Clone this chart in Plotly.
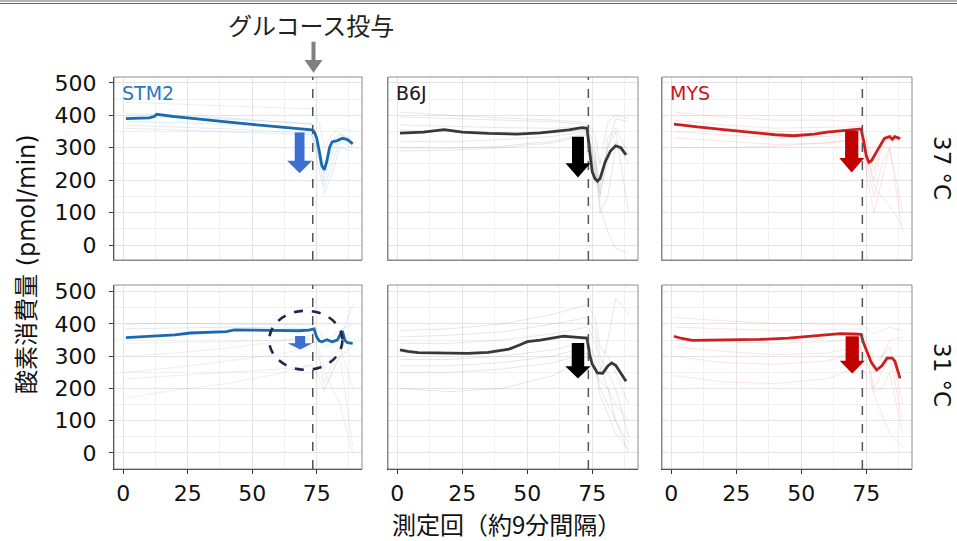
import plotly.graph_objects as go

# ---------------- data ----------------
PANELS = ["STM2", "B6J", "MYS"]
TEMPS = ["37 °C", "31 °C"]

STM2_37_X = [1, 5, 10, 12, 13, 20, 30, 40, 50, 60, 70, 73, 74, 75, 76, 77, 78, 79, 80, 81, 83, 85, 87, 89]
STM2_37_Y = [390, 391, 392, 396, 403, 396, 387, 380, 372, 365, 358, 355, 350, 330, 290, 245, 232, 260, 300, 318, 322, 329, 325, 312]

B6J_37_X = [1, 10, 18, 25, 35, 46, 55, 60, 66, 71, 73, 74, 75, 76, 77, 78, 80, 82, 84, 86, 88]
B6J_37_Y = [345, 348, 356, 348, 344, 342, 346, 350, 355, 362, 360, 288, 226, 205, 197, 205, 257, 290, 306, 300, 278]

MYS_37_X = [1, 5, 10, 21, 30, 40, 47, 55, 60, 66, 72, 73, 74, 75, 76, 77, 79, 81, 82, 84, 85, 86, 87, 88]
MYS_37_Y = [373, 368, 364, 355, 348, 340, 337, 342, 348, 353, 358, 358, 320, 275, 255, 260, 288, 318, 329, 334, 326, 334, 330, 328]

STM2_31_X = [1, 10, 20, 26, 35, 40, 43, 50, 60, 68, 72, 73, 74, 75, 76, 77, 79, 81, 83, 84, 85, 86, 87, 89]
STM2_31_Y = [358, 362, 366, 372, 374, 376, 382, 381, 380, 379, 381, 382, 385, 360, 348, 345, 351, 345, 350, 365, 378, 349, 342, 340]

B6J_31_X = [1, 4, 8, 15, 27, 35, 43, 47, 50, 55, 60, 64, 67, 70, 73, 74, 75, 77, 79, 81, 82.5, 84, 86, 88]
B6J_31_Y = [320, 315, 311, 310, 309, 312, 322, 335, 345, 350, 357, 362, 360, 358, 356, 304, 275, 248, 247, 270, 279, 272, 247, 222]

MYS_31_X = [1, 4, 8, 15, 25, 34, 45, 53, 60, 65, 70, 73, 74, 75, 77, 79, 81, 83, 85, 86, 87, 88]
MYS_31_Y = [362, 355, 349, 350, 351, 352, 356, 362, 366, 370, 369, 368, 340, 318, 280, 257, 270, 294, 294, 285, 260, 231]

# individual (faint) traces, sampled at common measurement indices
FAINT_X = [1, 20, 40, 60, 73, 76, 78, 81, 84, 89]

STM2_37_IND = [
    [440, 435, 430, 425, 420, 380, 300, 340, 360, 350],
    [405, 400, 392, 380, 372, 300, 220, 300, 340, 330],
    [380, 378, 372, 365, 360, 260, 180, 250, 320, 300],
    [370, 365, 358, 350, 345, 230, 160, 220, 300, 290],
    [360, 355, 350, 345, 340, 280, 200, 280, 330, 320],
    [395, 393, 388, 380, 375, 310, 240, 320, 345, 310],
]
B6J_37_IND = [
    [410, 400, 392, 385, 378, 340, 250, 380, 400, 390],
    [395, 390, 385, 380, 372, 300, 150, 300, 390, 380],
    [320, 318, 325, 335, 350, 250, 100, 150, 300, 280],
    [300, 298, 305, 320, 345, 230, 180, 330, 360, 280],
    [290, 292, 300, 315, 340, 280, 120, 40, -10, -25],
    [355, 350, 345, 345, 355, 220, 160, 260, 320, 250],
    [370, 365, 362, 360, 365, 250, 200, 300, 350, 100],
]
MYS_37_IND = [
    [410, 395, 385, 385, 380, 300, 260, 330, 340, 330],
    [385, 370, 360, 362, 365, 280, 230, 310, 340, 330],
    [350, 340, 330, 335, 345, 250, 200, 300, 330, 320],
    [330, 320, 310, 315, 325, 180, 100, 200, 300, 100],
    [300, 300, 305, 315, 330, 220, 150, 250, 300, 40],
    [370, 360, 350, 352, 358, 260, 180, 150, 120, 60],
]
STM2_31_IND = [
    [400, 402, 400, 398, 398, 380, 350, 360, 380, 400],
    [385, 388, 390, 388, 385, 350, 330, 340, 350, 460],
    [300, 310, 325, 345, 365, 320, 260, 300, 330, 200],
    [250, 265, 285, 305, 330, 290, 250, 200, 150, 0],
    [170, 195, 215, 245, 275, 230, 190, 250, 300, 20],
    [340, 342, 345, 350, 355, 300, 200, 250, 300, 330],
    [230, 240, 250, 260, 270, 240, 220, 280, 320, 300],
]
B6J_31_IND = [
    [380, 385, 400, 430, 460, 420, 330, 300, 250, 150],
    [360, 365, 375, 400, 420, 380, 300, 250, 200, 50],
    [340, 340, 350, 370, 390, 350, 270, 200, 100, 0],
    [290, 290, 300, 320, 345, 300, 250, 350, 480, 430],
    [270, 270, 280, 300, 330, 280, 200, 150, 100, 30],
    [200, 190, 200, 240, 300, 260, 220, 200, 150, 100],
    [250, 250, 260, 280, 310, 260, 180, 120, 60, 10],
]
MYS_31_IND = [
    [420, 410, 402, 400, 398, 380, 370, 380, 390, 380],
    [390, 385, 380, 382, 385, 330, 280, 300, 350, 360],
    [330, 315, 305, 310, 330, 280, 200, 250, 300, 100],
    [300, 280, 275, 285, 320, 260, 180, 120, 60, 20],
    [240, 220, 215, 230, 270, 230, 190, 200, 250, 60],
    [350, 345, 340, 345, 355, 300, 250, 300, 330, 150],
]

INJECTION = 73.5
X_TICKS = [0, 25, 50, 75]
Y_TICKS = [0, 100, 200, 300, 400, 500]

# ---------------- styling ----------------
MAIN_COLORS = {"STM2": "#1c6aae", "B6J": "#383838", "MYS": "#cc1f1f"}
LABEL_COLORS = {"STM2": "#2b78c2", "B6J": "#1a1a1a", "MYS": "#c8161d"}
ARROW_COLORS = {"STM2": "#3b6fd1", "B6J": "#000000", "MYS": "#c00000"}
FAINT_COLORS = {"STM2": "rgba(110,165,220,0.22)", "B6J": "rgba(120,120,120,0.18)",
                "MYS": "rgba(230,90,90,0.16)"}
FAINT_ALT = "rgba(150,150,150,0.16)"

W, H = 957, 541
COL_PX = [(114, 362), (388, 638), (662, 912)]
ROW_PX = [(77, 260), (285, 469)]
Y_RANGES = [[-46, 518], [-50, 521]]
X_RANGE = [-3.6, 92.6]

LATIN = "DejaVu Sans, Noto Sans CJK JP, sans-serif"
CJK = "Noto Sans CJK JP, sans-serif"

mains = [
    [(STM2_37_X, STM2_37_Y), (B6J_37_X, B6J_37_Y), (MYS_37_X, MYS_37_Y)],
    [(STM2_31_X, STM2_31_Y), (B6J_31_X, B6J_31_Y), (MYS_31_X, MYS_31_Y)],
]
inds = [
    [STM2_37_IND, B6J_37_IND, MYS_37_IND],
    [STM2_31_IND, B6J_31_IND, MYS_31_IND],
]

# block arrows: (x centre, top, head start, tip, shaft half-width, head half-width)
ARROWS = [
    [(68.4, 347, 260, 221, 1.9, 4.85), (69.5, 334, 252, 208, 2.3, 4.8), (69.4, 352, 268, 224, 2.55, 4.8)],
    [(68.6, 363, 340, 321, 1.95, 4.8), (69.5, 341, 269, 231, 2.4, 4.9), (69.6, 362, 286, 246, 2.55, 4.8)],
]


def block_arrow(xc, yt, yh, yp, hs, hh):
    return (f"M {xc-hs},{yt} L {xc+hs},{yt} L {xc+hs},{yh} L {xc+hh},{yh} "
            f"L {xc},{yp} L {xc-hh},{yh} L {xc-hs},{yh} Z")


fig = go.Figure()
layout = {}
shapes = []
annotations = []

for r in range(2):
    for c in range(3):
        i = r * 3 + c + 1
        xa = "x" if i == 1 else f"x{i}"
        ya = "y" if i == 1 else f"y{i}"
        name = PANELS[c]
        fc = FAINT_COLORS[name]
        for k, ys in enumerate(inds[r][c]):
            col = fc
            if name == "STM2" and k >= 2 and r == 1:
                col = FAINT_ALT
            if name == "STM2" and r == 0 and k == 0:
                col = FAINT_ALT
            fig.add_trace(go.Scatter(x=FAINT_X, y=ys, mode="lines", xaxis=xa, yaxis=ya,
                                     line=dict(color=col, width=1), hoverinfo="skip",
                                     showlegend=False))
        mx, my = mains[r][c]
        fig.add_trace(go.Scatter(x=mx, y=my, mode="lines", xaxis=xa, yaxis=ya,
                                 line=dict(color=MAIN_COLORS[name], width=2.8),
                                 showlegend=False, name=name))

        x0, x1 = COL_PX[c]
        y0, y1 = ROW_PX[r]
        xkey = "xaxis" if i == 1 else f"xaxis{i}"
        ykey = "yaxis" if i == 1 else f"yaxis{i}"
        layout[xkey] = dict(
            domain=[x0 / W, x1 / W], anchor=ya, range=X_RANGE,
            tickvals=X_TICKS, showticklabels=(r == 1),
            ticks="outside" if r == 1 else "", ticklen=4, tickcolor="#333",
            tickfont=dict(family=LATIN, size=22, color="#111"),
            showgrid=True, gridcolor="#e4e4e4", gridwidth=1,
            minor=dict(dtick=12.5, tick0=0, showgrid=True, gridcolor="#f1f1f1", gridwidth=1),
            showline=True, linecolor="#222" if r == 1 else "#888", linewidth=1.3 if r == 1 else 1,
            mirror=False, zeroline=False, fixedrange=True, ticklabelstandoff=0,
        )
        layout[ykey] = dict(
            domain=[1 - y1 / H, 1 - y0 / H], anchor=xa, range=Y_RANGES[r],
            tickvals=Y_TICKS, showticklabels=(c == 0),
            ticks="outside" if c == 0 else "", ticklen=4, tickcolor="#333",
            tickfont=dict(family=LATIN, size=22, color="#111"),
            showgrid=True, gridcolor="#e4e4e4", gridwidth=1,
            minor=dict(dtick=50, tick0=0, showgrid=True, gridcolor="#f1f1f1", gridwidth=1),
            showline=True, linecolor="#222" if c == 0 else "#888", linewidth=1.3 if c == 0 else 1,
            mirror=False, zeroline=False, fixedrange=True, ticklabelstandoff=8,
        )
        # panel border (top/right)
        shapes.append(dict(type="rect", xref=f"{xa} domain", yref=f"{ya} domain",
                           x0=0, x1=1, y0=0, y1=1, line=dict(color="#8a8a8a", width=1),
                           fillcolor="rgba(0,0,0,0)", layer="above"))
        # injection line
        shapes.append(dict(type="line", xref=xa, yref=f"{ya} domain", x0=INJECTION, x1=INJECTION,
                           y0=0, y1=1, line=dict(color="#555", width=1.5, dash="dash"), layer="above"))
        # block arrow
        xc, yt, yh, yp, hs, hh = ARROWS[r][c]
        shapes.append(dict(type="path", xref=xa, yref=ya, path=block_arrow(xc, yt, yh, yp, hs, hh),
                           fillcolor=ARROW_COLORS[name], line=dict(width=0), layer="above"))
        # panel label
        if r == 0:
            annotations.append(dict(text=name, xref=f"{xa} domain", yref=f"{ya} domain",
                                    x=0.025, y=0.985, xanchor="left", yanchor="top", showarrow=False,
                                    font=dict(family=LATIN, size=19, color=LABEL_COLORS[name])))

# dashed ellipse highlighting STM2 31 °C
shapes.append(dict(type="circle", xref="x4", yref="y4", x0=56.6, x1=85.0, y0=258, y1=441,
                   line=dict(color="#1b2a48", width=2.6, dash="dash"), layer="above"))

# glucose injection arrow (paper coords)
gx, gt, gh, gp, ghs, ghh = 313.5, 41.7, 60.0, 72.7, 2.0, 9.0
gpath = (f"M {(gx-ghs)/W},{1-gt/H} L {(gx+ghs)/W},{1-gt/H} L {(gx+ghs)/W},{1-gh/H} "
         f"L {(gx+ghh)/W},{1-gh/H} L {gx/W},{1-gp/H} L {(gx-ghh)/W},{1-gh/H} "
         f"L {(gx-ghs)/W},{1-gh/H} Z")
shapes.append(dict(type="path", xref="paper", yref="paper", path=gpath,
                   fillcolor="#808080", line=dict(width=0)))

# top double rule
for yy in (1.0, 3.5):
    shapes.append(dict(type="line", xref="paper", yref="paper", x0=0, x1=1,
                       y0=1 - yy / H, y1=1 - yy / H, line=dict(color="#666", width=1)))

annotations += [
    dict(text="グルコース投与", xref="paper", yref="paper", x=311 / W, y=1 - 24 / H,
         showarrow=False, xanchor="center", yanchor="middle",
         font=dict(family=CJK, size=24, color="#222")),
    dict(text="酸素消費量 (pmol/min)", xref="paper", yref="paper", x=27 / W, y=1 - 264 / H,
         textangle=-90, showarrow=False, xanchor="center", yanchor="middle",
         font=dict(family=LATIN, size=24, color="#111")),
    dict(text="測定回（約9分間隔）", xref="paper", yref="paper", x=506 / W, y=1 - 523 / H,
         showarrow=False, xanchor="center", yanchor="middle",
         font=dict(family=CJK, size=24, color="#111")),
    dict(text=TEMPS[0], xref="paper", yref="paper", x=942 / W, y=1 - 168 / H,
         textangle=90, showarrow=False, xanchor="center", yanchor="middle",
         font=dict(family=LATIN, size=23, color="#111")),
    dict(text=TEMPS[1], xref="paper", yref="paper", x=942 / W, y=1 - 375 / H,
         textangle=90, showarrow=False, xanchor="center", yanchor="middle",
         font=dict(family=LATIN, size=23, color="#111")),
]

fig.update_layout(
    width=W, height=H, margin=dict(l=0, r=0, t=0, b=0, autoexpand=False),
    paper_bgcolor="white", plot_bgcolor="white",
    shapes=shapes, annotations=annotations, showlegend=False,
    **layout,
)

fig.write_html("out.html", config={"displayModeBar": False},
               post_script="document.body.style.margin='0';document.body.style.overflow='hidden';")
